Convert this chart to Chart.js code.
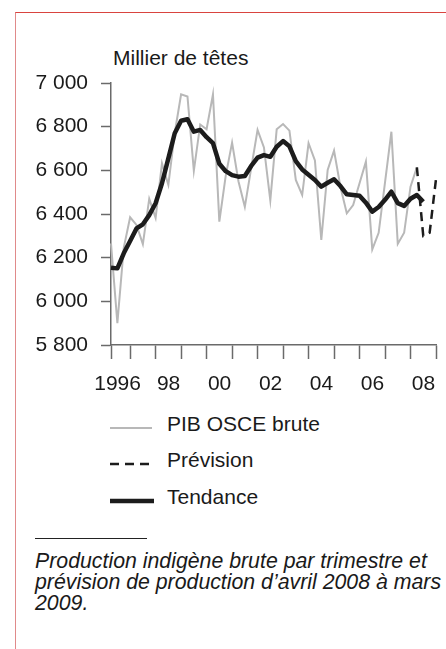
<!DOCTYPE html>
<html lang="fr">
<head>
<meta charset="utf-8">
<title>Production indigène brute</title>
<script src="https://cdn.jsdelivr.net/npm/chart.js@4.4.1/dist/chart.umd.min.js"></script>
<style>
  html, body { margin: 0; padding: 0; background: #fff; }
  body { width: 446px; height: 649px; position: relative; overflow: hidden;
         font-family: "Liberation Sans", Arial, sans-serif; color: #1a1a1a; }
  #frame { position: absolute; left: 15px; top: 12px; width: 440px; height: 660px;
           border-top: 1px solid #d9443f; border-left: 1px solid #e08a8a; }
  #chart { position: absolute; left: 0; top: 0; }
  #unit { position: absolute; left: 113px; top: 47px; font-size: 21px; line-height: 21px; white-space: nowrap; }
  .lg-row { position: absolute; left: 0; width: 446px; height: 36px; }
  .lg-row svg { position: absolute; left: 110px; }
  .lg-row span { position: absolute; left: 167px; font-size: 21px; line-height: 21px; white-space: nowrap; }
  #rule { position: absolute; left: 35px; top: 538px; width: 112px; height: 0; border-top: 1px solid #222; }
  #caption { position: absolute; left: 35px; top: 551px; font-size: 21.3px; line-height: 21.2px;
             font-style: italic; white-space: nowrap; }
</style>
</head>
<body>
<div id="frame"></div>
<div id="unit">Millier de têtes</div>
<canvas id="chart" width="446" height="400"></canvas>
<div id="legend"></div>
<div id="rule"></div>
<div id="caption">Production indigène brute par trimestre et<br>prévision de production d’avril 2008 à mars<br>2009.</div>
<script>
// quarters 1996 T1 .. 2008 T4
const years = [1996, 1997, 1998, 1999, 2000, 2001, 2002, 2003, 2004, 2005, 2006, 2007, 2008];
const quarters = [];
years.forEach(y => { for (let q = 1; q <= 4; q++) quarters.push(y + " T" + q); });

// tick marks at the end of each year, label centred on the year, every other year
const tickQuarters = years.map(y => y + " T4");
const yearLabels = ["1996", "", "98", "", "00", "", "02", "", "04", "", "06", "", "08"];

const yTicks = [5800, 6000, 6200, 6400, 6600, 6800, 7000];

// PIB OSCE brute (thousand heads)
const brute = [
  6265, 5900, 6245, 6385, 6350, 6262, 6469, 6382, 6632, 6533, 6771, 6948, 6938,
  6598, 6810, 6788, 6948, 6365, 6575, 6727, 6550, 6433, 6610, 6785, 6705, 6462,
  6788, 6812, 6782, 6556, 6487, 6724, 6645, 6281, 6602, 6690, 6525, 6403, 6441,
  6541, 6640, 6238, 6314, 6545, 6777, 6263, 6314, 6525, 6614
];

// Prévision (starts from last observed quarter)
const prevision = [
  null, null, null, null, null, null, null, null, null, null, null, null, null,
  null, null, null, null, null, null, null, null, null, null, null, null, null,
  null, null, null, null, null, null, null, null, null, null, null, null, null,
  null, null, null, null, null, null, null, null, null, 6614, 6300, 6314, 6560
];

// Tendance
const tendance = [
  6154, 6151, 6220, 6276, 6334, 6353, 6395, 6449, 6541, 6655, 6770, 6827, 6834,
  6777, 6785, 6752, 6725, 6630, 6596, 6578, 6571, 6574, 6620, 6658, 6670, 6662,
  6708, 6734, 6710, 6642, 6604, 6580, 6556, 6525, 6543, 6559, 6528, 6490, 6487,
  6484, 6452, 6411, 6432, 6465, 6502, 6450, 6437, 6470, 6487, 6456
];

Chart.defaults.font.family = '"Liberation Sans", Arial, sans-serif';
Chart.defaults.font.size = 21;
Chart.defaults.color = "#1a1a1a";

const axisColor = "#6a6a6a";

const chart = new Chart(document.getElementById("chart"), {
  type: "line",
  data: {
    labels: quarters,
    datasets: [
      {
        label: "PIB OSCE brute",
        data: brute,
        borderColor: "#b8b8b8",
        borderWidth: 2,
        order: 3
      },
      {
        label: "Prévision",
        data: prevision,
        borderColor: "#1c1c1c",
        borderWidth: 2.5,
        borderDash: [9, 6],
        order: 2
      },
      {
        label: "Tendance",
        data: tendance,
        borderColor: "#1c1c1c",
        borderWidth: 4.5,
        borderJoinStyle: "round",
        order: 1
      }
    ]
  },
  options: {
    responsive: false,
    animation: false,
    devicePixelRatio: 1,
    layout: { padding: { top: 83, right: 10, bottom: 0, left: 0 } },
    elements: {
      point: { radius: 0, hoverRadius: 0 },
      line: { tension: 0, fill: false }
    },
    plugins: {
      legend: { display: false },
      tooltip: { enabled: false }
    },
    scales: {
      x: {
        type: "category",
        offset: false,
        border: { display: true, color: axisColor, width: 1.5 },
        grid: { drawOnChartArea: false, drawTicks: true, tickLength: 14, tickColor: axisColor, tickWidth: 1.5 },
        ticks: {
          autoSkip: false,
          maxRotation: 0,
          padding: 13,
          labelOffset: -12.5,
          callback: function (value) {
            const k = tickQuarters.indexOf(quarters[value]);
            return k >= 0 ? yearLabels[k] : "";
          }
        },
        afterBuildTicks: function (scale) {
          const idx = [0].concat(tickQuarters.map(q => quarters.indexOf(q)));
          scale.ticks = idx.map(v => ({ value: v }));
        },
        afterFit: function (scale) {
          scale.height = 55;
          scale.paddingRight = 0;
          scale.paddingLeft = 0;
        }
      },
      y: {
        min: yTicks[0],
        max: yTicks[yTicks.length - 1],
        border: { display: true, color: axisColor, width: 1.5 },
        grid: { drawOnChartArea: false, drawTicks: true, tickLength: 10, tickColor: axisColor, tickWidth: 1.5 },
        afterBuildTicks: function (scale) {
          scale.ticks = yTicks.map(v => ({ value: v }));
        },
        ticks: {
          padding: 13,
          callback: v => String(v).replace(/\B(?=(\d{3})+(?!\d))/g, " ")
        },
        afterFit: function (scale) {
          scale.width = 111;
        }
      }
    }
  }
});

// vertical legend below the chart, built from the chart's own legend items
const legendBox = document.getElementById("legend");
const items = chart.options.plugins.legend.labels.generateLabels(chart)
  .sort((a, b) => a.datasetIndex - b.datasetIndex);
const rowTops = [413, 449, 486];
const lineLens = [42, 42, 44];
items.forEach((it, i) => {
  const row = document.createElement("div");
  row.className = "lg-row";
  row.style.top = rowTops[i] + "px";
  const ns = "http://www.w3.org/2000/svg";
  const svg = document.createElementNS(ns, "svg");
  svg.setAttribute("width", lineLens[i]);
  svg.setAttribute("height", 10);
  svg.style.top = "10px";
  const ln = document.createElementNS(ns, "line");
  ln.setAttribute("x1", 0);
  ln.setAttribute("x2", lineLens[i]);
  ln.setAttribute("y1", 5);
  ln.setAttribute("y2", 5);
  ln.setAttribute("stroke", it.strokeStyle);
  ln.setAttribute("stroke-width", it.lineWidth);
  if (it.lineDash && it.lineDash.length) ln.setAttribute("stroke-dasharray", it.lineDash.join(" "));
  svg.appendChild(ln);
  const txt = document.createElement("span");
  txt.textContent = it.text;
  row.appendChild(svg);
  row.appendChild(txt);
  legendBox.appendChild(row);
});
</script>
</body>
</html>
